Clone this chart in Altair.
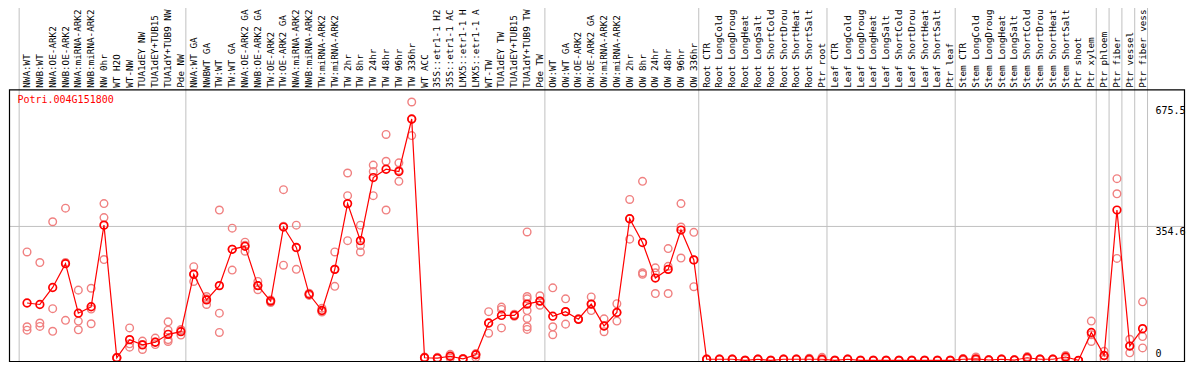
import altair as alt
import pandas as pd

gene = "Potri.004G151800"

# sample names as they are printed in the header (the chart prints at most 14 characters)
categories = [
    "NWA:WT", "NWB:WT", "NWA:OE-ARK2", "NWB:OE-ARK2", "NWA:miRNA-ARK2", "NWB:miRNA-ARK2",
    "NW 0hr", "WT H2O", "WT-NW", "TUA1dEY NW", "TUA1dEY+TUB15", "TUA1dY+TUB9 NW", "Pde NW",
    "NWA:WT GA", "NWBWT GA", "TW:WT", "TW:WT GA", "NWA:OE-ARK2 GA", "NWB:OE-ARK2 GA",
    "TW:OE-ARK2", "TW:OE-ARK2 GA", "NWA:miRNA-ARK2", "NWB:miRNA-ARK2", "TW:miRNA-ARK2",
    "TW:miRNA-ARK2", "TW 2hr", "TW 8hr", "TW 24hr", "TW 48hr", "TW 96hr", "TW 336hr",
    "WT ACC", "35S::etr1-1 H2", "35S::etr1-1 AC", "LMX5::etr1-1 H", "LMX5::etr1-1 A",
    "WT-TW", "TUA1dEY TW", "TUA1dEY+TUB15", "TUA1dY+TUB9 TW", "Pde TW",
    "OW:WT", "OW:WT GA", "OW:OE-ARK2", "OW:OE-ARK2 GA", "OW:miRNA-ARK2", "OW:miRNA-ARK2",
    "OW 2hr", "OW 8hr", "OW 24hr", "OW 48hr", "OW 96hr", "OW 336hr",
    "Root CTR", "Root LongCold", "Root LongDroug", "Root LongHeat", "Root LongSalt",
    "Root ShortCold", "Root ShortDrou", "Root ShortHeat", "Root ShortSalt", "Ptr root",
    "Leaf CTR", "Leaf LongCold", "Leaf LongDroug", "Leaf LongHeat", "Leaf LongSalt",
    "Leaf ShortCold", "Leaf ShortDrou", "Leaf ShortHeat", "Leaf ShortSalt", "Ptr leaf",
    "Stem CTR", "Stem LongCold", "Stem LongDroug", "Stem LongHeat", "Stem LongSalt",
    "Stem ShortCold", "Stem ShortDrou", "Stem ShortHeat", "Stem ShortSalt", "Ptr shoot",
    "Ptr xylem", "Ptr phloem", "Ptr fiber", "Ptr vessel", "Ptr fiber vess",
]

means = [
    152, 148, 193, 256, 125, 142, 358, 7, 55, 41, 48, 69, 76,
    228, 160, 198, 294, 302, 198, 157, 353, 299, 175, 132, 241, 415, 317, 484, 506, 500, 639,
    7, 6, 11, 4, 15, 99, 119, 119, 149, 157,
    117, 129, 109, 149, 91, 127, 375, 312, 218, 241, 345, 266,
    3, 3, 3, 0, 3, 0, 3, 3, 3, 3,
    0, 3, 0, 0, 0, 0, 0, 0, 0, 0,
    3, 4, 1, 3, 1, 7, 3, 3, 9, 0,
    74, 13, 398, 38, 84,
]

replicates = [
    [287, 89, 80], [259, 99, 90], [367, 137, 77], [403, 106, 259], [186, 104, 81],
    [191, 136, 97], [415, 378, 267], [7, 6, 8], [86, 44, 35], [51, 42, 29],
    [59, 42, 49], [102, 80, 55, 50], [82, 79, 67],
    [248, 209, 228], [169, 148, 163], [398, 125, 74], [350, 239, 294], [313, 289, 305],
    [209, 187, 198], [160, 153, 157], [452, 252, 355], [358, 241, 298], [175, 178, 172],
    [138, 130, 128], [287, 196, 241], [496, 436, 317], [358, 304, 287], [517, 500, 436],
    [598, 527, 398], [523, 474, 503], [684, 595, 638], [9, 6, 7], [8, 5, 6],
    [16, 6, 11], [5, 3, 4], [18, 8, 15], [129, 72, 99], [141, 135, 86],
    [122, 117, 119], [340, 169, 163, 132, 111, 89, 82], [171, 146, 157],
    [192, 89, 68], [163, 96, 129], [109, 110, 108], [168, 132, 149], [110, 76, 91],
    [150, 104, 127], [426, 321, 375], [474, 232, 228], [245, 232, 177], [296, 249, 177],
    [415, 353, 271], [339, 195, 266],
    [3, 2, 4], [3, 2, 4], [3, 2, 4], [0, 1, 0], [3, 2, 4],
    [0, 0, 1], [3, 2, 4], [3, 2, 4], [4, 1, 6], [3, 1, 8],
    [0, 0, 1], [3, 2, 4], [0, 0, 1], [0, 0, 1], [0, 0, 1],
    [0, 0, 1], [0, 0, 1], [0, 0, 1], [0, 0, 1], [0, 0, 1],
    [3, 1, 5], [3, 1, 9], [1, 0, 2], [3, 2, 4], [1, 0, 2],
    [7, 4, 10], [3, 2, 4], [3, 2, 4], [9, 5, 13], [0, 0, 0],
    [104, 50, 68], [24, 3, 12], [481, 441, 270], [56, 20, 38], [155, 63, 33],
]

# indexes after which a separator line is drawn (-1 = before the first sample)
separators_after = [-1, 12, 40, 52, 62, 72, 83, 84, 85, 86, 87]
y_tick_values = [0, 354.6, 675.5]
y_tick_texts = ["0", "354.6", "675.5"]
y_grid_values = [354.6]

W, H = 1178, 354
RED = "#ff0000"
PINK = "#f08080"
GRID = "#c0c0c0"
MONO = "DejaVu Sans Mono"

mean_df = pd.DataFrame({"idx": list(range(len(categories))), "label": categories, "mean": means})
rep_df = pd.DataFrame(
    [{"idx": i, "value": v} for i, reps in enumerate(replicates) for v in reps]
)
sep_df = pd.DataFrame({"pos": [s + 0.385 for s in separators_after]})
tick_df = pd.DataFrame({"tick": y_tick_values, "text": y_tick_texts})
grid_df = pd.DataFrame({"g": y_grid_values})
one = pd.DataFrame({"a": [0]})

xs = alt.Scale(domain=[0, 87], range=[19.04, 1134.6], nice=False, zero=False)
ys = alt.Scale(domain=[0, 675.5], range=[352.4, 97.2], nice=False, zero=False)

vgrid = alt.Chart(sep_df).mark_rule(color=GRID, strokeWidth=1).encode(
    x=alt.X("pos:Q", scale=xs, axis=None),
    y=alt.value(0),
    y2=alt.value(H),
)

hgrid = alt.Chart(grid_df).mark_rule(color=GRID, strokeWidth=1).encode(
    y=alt.Y("g:Q", scale=ys, axis=None),
    x=alt.value(1.5),
    x2=alt.value(1176.5),
)

border = alt.Chart(one).mark_rect(filled=False, stroke="black", strokeWidth=1.2).encode(
    x=alt.value(1.5), x2=alt.value(1176.5), y=alt.value(81.8), y2=alt.value(353.6)
)

reps_layer = alt.Chart(rep_df).mark_point(
    shape="circle", filled=False, color=PINK, size=58, strokeWidth=1.4, opacity=1
).encode(
    x=alt.X("idx:Q", scale=xs, axis=None),
    y=alt.Y("value:Q", scale=ys, axis=None),
)

line_layer = alt.Chart(mean_df).mark_line(color=RED, strokeWidth=1.2).encode(
    x=alt.X("idx:Q", scale=xs, axis=None),
    y=alt.Y("mean:Q", scale=ys, axis=None),
    order="idx:Q",
)

mean_layer = alt.Chart(mean_df).mark_point(
    shape="circle", filled=False, color=RED, size=58, strokeWidth=1.7, opacity=1
).encode(
    x=alt.X("idx:Q", scale=xs, axis=None),
    y=alt.Y("mean:Q", scale=ys, axis=None),
)

cat_labels = alt.Chart(mean_df).mark_text(
    angle=270, align="left", baseline="middle", font=MONO, fontSize=9.3, color="black"
).encode(
    x=alt.X("idx:Q", scale=xs, axis=None),
    y=alt.value(79.8),
    text="label:N",
)

title_layer = alt.Chart(pd.DataFrame({"t": [gene]})).mark_text(
    align="left", baseline="middle", font=MONO, fontSize=10, color=RED
).encode(x=alt.value(9.4), y=alt.value(92.4), text="t:N")

tick_top = alt.Chart(tick_df).transform_filter("datum.tick > 0").mark_text(
    align="left", baseline="top", font=MONO, fontSize=10, color="black", dy=1
).encode(
    y=alt.Y("tick:Q", scale=ys, axis=None),
    x=alt.value(1147.4),
    text="text:N",
)

tick_zero = alt.Chart(tick_df).transform_filter("datum.tick == 0").mark_text(
    align="left", baseline="bottom", font=MONO, fontSize=10, color="black", dy=-1
).encode(
    y=alt.Y("tick:Q", scale=ys, axis=None),
    x=alt.value(1147.4),
    text="text:N",
)

chart = alt.layer(
    vgrid, hgrid, reps_layer, line_layer, mean_layer, border,
    cat_labels, title_layer, tick_top, tick_zero,
).properties(
    width=W, height=H,
    autosize=alt.AutoSizeParams(type="none"),
    padding=0,
    background="white",
).configure_view(stroke=None)

chart.save("out.html", embed_options={"renderer": "svg", "actions": False})
